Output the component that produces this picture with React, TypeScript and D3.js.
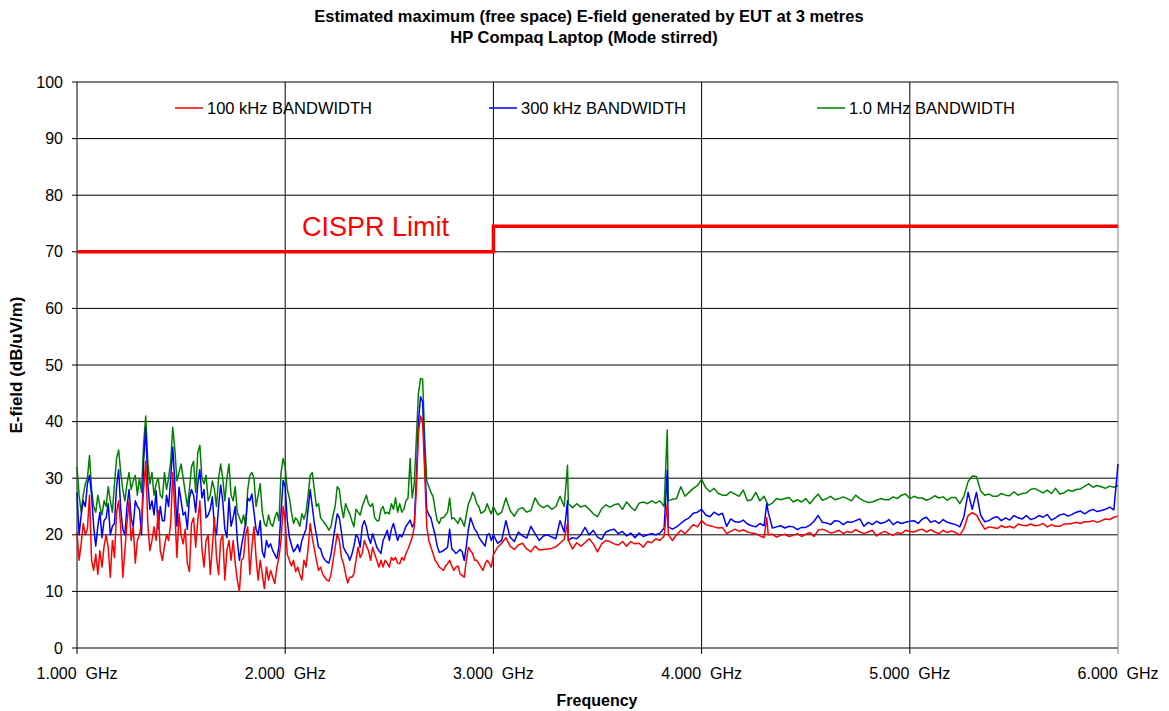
import React from 'react';
import * as d3 from 'd3';

// Frequency sweep definitions (GHz)
const LOW_START = 1.0;
const LOW_STEP = 0.01; // 1.00 .. 3.00
const HIGH_START = 3.02;
const HIGH_STEP = 0.02; // 3.02 .. 6.00

// 100 kHz bandwidth (red)
const red100kLow = [
  20.5,15.5,18.4,22,20,21,27,15.5,13.7,16.6, 13,17.2,14.3,18,20,17.8,12.5,19,16,24,
  26,21.4,12.5,17.2,22,26,19,21.4,15,19, 20,22,28,33,22,17.2,19,21.4,19,24.3,
  17.2,15.5,18,20,19,22,31,24,16,23.7, 20,
  18.4,21,15,13.5,22,23,17.8,22.5,26,17.5, 14.3,19,20,13,17.8,23,16,13,19,20,
  12,17.2,19,15.5,19,15,12,10,15.5,16, 20,21.4,13,17.8,21.4,16,12,15.5,13,10.5,
  14.3,12,13.7,12.5,11.4,14.3,16,19,25,22.5,
  16.5,15.5,14.5,15.5,13.5,14.3,13,12,15.5,14.3, 17.5,22,19.5,17.5,15.5,13.7,14.3,13,12.5,12,
  11.8,13,15.5,17.8,20.2,19,16,14.9,13.1,11.5, 12.5,12.5,13.1,15.5,17.8,16,16.7,19,18,17.2,
  15.5,17.8,16.5,15.5,14.3,15.5,14.3,15.5,15,14.3,
  16,15.5,16,15,14.9,16,15.5,16.7,17.5,18.5, 19.5,21.4,28,38,41,40,31,21.4,19,17.8,
  16.7,15.5,15,14.3,14,13.7,14.5,14.9,15.5,14.5, 13.7,14.3,14.5,13.1,12.8,12.5,15.5,17.8,17.2,16.7,
  15.5,15.5,14.9,14.3,13.7,14.9,15.5,15,14.3,16.5,
];
const red100kHigh = [
  17.8,18.5,19.5,18,17.4,18.2,18.5,17.5,17,18, 17.3,17.4,17.5,17.6,17.9,18.5,19.2,19,17.5,18.6,
  18,18.6,19.3,18.4,17,18.4,19,18.8,18.4,18.2, 18.8,18,18.8,18.4,18.5,17.8,18.8,18.6,19.3,19,
  19.8,20,19,20,20.8,20.2,21,21.8,21.4,22.5, 21.8,21.6,21.4,21.2,
  21.3,20.2,20.6,21,20.6,20.9,20.5,20.3,20.2,19.8, 19.5,20,20.1,19.6,19.9,20.1,19.7,19.9,20.2,19.7,
  20.1,20.4,19.7,20.8,21,20.7,20.3,20.5,20.8,20.2, 20.6,20.4,20.9,20.5,20.2,20.5,20.8,19.8,20.3,20.6,
  20.2,19.9,20.4,20.2,20.8,20.6,
  20.5,20.8,21,20.5,20.9,20.5,20.2,20.8,20.4,20.7, 20.4,20,21.1,23.4,23.9,23.5,22.2,21,21.4,21.3,
  21.1,21.6,21.3,21.5,21.2,21.9,21.7,21.6,21.9,21.6, 21.7,22,21.4,21.8,21.5,21.5,21.9,21.9,22,22.2,
  22,22.3,22.3,22.5,22.2,22.5,22.8,22.7,23.1,23.3,
];
const red100kSpikeF = [3.356, 3.835, 4.313];
const red100kSpikeV = [22, 25.5, 23];

// 300 kHz bandwidth (blue)
const blue300kLow = [
  27.5,20,23.5,26,25,29,30.5,27,21.5,18, 21.5,24,19.5,22.5,23,25.5,20,21.5,22,28.5,
  31.5,24.5,21,20,25,28,23,21.5,26,25, 24.5,20,33,39,29,24.5,26,23.5,27.8,21,
  25,22.5,22.5,27,25,30,35.5,29,21.5,28.4, 26,
  23.5,24,21,26.5,28,27,24,29,31.5,26.5, 28,23,23.5,24.5,26.7,21.5,20,25,28.8,26,
  21,19.5,26.5,21.5,23,25,19,15.5,18,20, 22,26.5,26,27.2,24,21,20,22.5,17,16,
  19,17.8,18.4,17.2,16.5,15.8,18,24,29.6,28.4,
  22.5,19.6,18.2,17,17.5,18.3,17,19,20,21, 24.5,28,25,22,20,17.8,17.5,16.2,15.6,15.2,
  15,16.5,19,21.4,23.7,23,20.5,17.8,17,16.5, 15.5,16.5,18,20,19.5,17.8,21.5,22.5,21.4,19.5,
  18.5,20.2,19,17.8,17.2,16.7,19,19.8,20.8,19,
  21,22,20.5,19,20,19.6,20.5,21.5,22,22.6, 21.4,22,30,40,44.4,43.5,33,24.5,23.5,23,
  21.4,20,18,16.9,17,17.2,17.5,17.8,21,17.5, 17.2,16.7,17,17.4,17,15.5,18,21,23,22,
  21,20.5,19.6,19,18.5,18,20,20.2,19,20,
];
const blue300kHigh = [
  18.5,19,22.5,19.6,18.8,20.5,19.8,19.4,21.5,20.2, 19,19.8,20,19.6,19.3,22.5,20.5,19,19.5,19.3,
  20,21.3,20,20.8,19.6,19.2,20.5,20.8,21,20.2, 20.6,19.8,20.3,19.5,20.3,19.7,20,20.2,20,20.3,
  21.2,21.4,21,21.4,22,22.6,23,23.8,24,24.5, 23.5,23.2,24,23.5,
  23.8,21.5,22.8,22.3,22.2,22.6,21.9,21.6,21.4,22, 21.6,24,21.2,21.4,21.6,21.2,21.5,21.4,20.9,21.3,
  21.3,21.7,22.4,23.4,22.2,22.1,21.8,22.5,22.4,21.8, 22.3,22.2,22.5,22.8,21.5,22.2,21.8,22.4,22,22.2,
  22.7,21.8,22.3,22,22.2,22.4,
  22.5,22,22.8,23.1,22.2,22.5,22,22.7,22.2,22, 21.8,21.4,23.2,27.5,24.5,27.5,23.5,22.3,22.5,23,
  23.2,22.5,23,22.6,23.4,23,22.8,23.4,22.7,22.9, 23.4,23.1,23.6,22.6,23,23.5,23.7,23.3,23.6,24,
  24.2,23.7,24.2,24.5,24.1,24.3,24.5,24.9,24.4,32.5,
];
const blue300kSpikeF = [3.356, 3.835, 4.313];
const blue300kSpikeV = [26, 31.4, 25.5];

// 1.0 MHz bandwidth (green)
const green1MLow = [
  32,27,24,27,29,30,34,28,25,24, 27,25,23.5,26,25,28.5,26,24,29,33.5,
  35,31,28,26,29,31,28,29.5,30.5,27, 30,27.5,36,41,33,29,31,27,29,30,
  27,26.5,31,28,30,33,39,35,29.5,31, 32.5,
  30,27.5,25,28,32,33,27.5,34.5,35.8,30, 29,30.5,26,27,29.5,28,25,30,32.5,30,
  26,30,32.5,27,26,28.5,24,23,22,23.5, 21.5,28,30.5,31,30,25,27,29,24,22,
  21.5,23.5,22,21.5,23,24,22.5,31,33.5,32,
  28,26.5,24,22,23,22.5,21.5,23.7,22.8,24, 27,30.5,31,28,25,25.5,23,22.5,22,21.5,
  20.8,21.5,23.5,25,28.5,28,25,23,25.5,24.5, 23.7,22.5,21.4,24.5,24,23.5,25,26,27,25.5,
  25,25.5,23,22.5,22.5,24.5,25,23.7,24,23.7,
  25.5,24.5,26.5,24,25.5,24,24.5,26,26.5,33.5, 26.5,29,37,45,47.6,47.5,37,29.5,28.5,27.5,
  26.8,24.5,22.5,22,23,23,23.5,24,26.5,22.8, 23,22.5,22,23,22.4,21.5,23.5,25.5,26.3,27.5,
  26.8,25.5,25,23.8,24,24.3,25.5,24.5,23.7,25,
];
const green1MHigh = [
  23.5,24,26.5,24.3,23.3,24.5,24.8,24,24.3,26.5, 25.3,24.8,25.2,24.5,25,26.8,25,25.5,24.8,25.5,
  24.9,25.2,24.5,23.7,23.2,24.6,25.3,24.9,25.3,25.5, 24.5,25.8,24.9,24.3,25.6,25.8,25.5,26,25.6,26,
  25,26,26.3,26.4,28.5,26.8,27.5,28.2,28.7,29.8, 28.3,27.6,28.2,27.3,
  27,27,27.6,27.2,26.8,27.9,26,26.2,27.5,26, 26.8,25.2,25.6,26.4,26.2,26.4,26.6,25.8,26.2,25.8,
  26.4,25.5,26.4,27.2,26.1,26.4,26.8,26.2,26.4,26.7, 26.4,26,27,26.4,26,25.7,25.8,26.1,26.4,26.2,
  26.2,26.7,26.4,27,27.2,26.4,
  26.8,26.5,26.5,26.1,26.4,26.9,26.5,26.7,26.1,26.6, 26.6,25.5,26.8,29.4,30.4,30.3,27.8,27,27.2,26.8,
  26.8,27.3,27,26.9,27.6,27,27.3,27.4,28,28.2, 27.8,27.4,27.9,27.3,28.2,27.2,27.4,27.9,27.7,28,
  28.1,28.6,29,28.4,28.7,28.5,28.2,28.6,28.4,28.7,
];
const green1MSpikeF = [3.356, 3.835];
const green1MSpikeV = [32.3, 38.5];

// CISPR limit
const limitF = [1, 3, 3, 6];
const limitV = [70, 70, 74.5, 74.5];

const yTicks = [0, 10, 20, 30, 40, 50, 60, 70, 80, 90, 100];
const xTicks = [1, 2, 3, 4, 5, 6];
const xTickLabels = ['1.000  GHz', '2.000  GHz', '3.000  GHz', '4.000  GHz', '5.000  GHz', '6.000  GHz'];

const seriesNames = ['100 kHz BANDWIDTH', '300 kHz BANDWIDTH', '1.0 MHz BANDWIDTH'];
const seriesColors = ['#ff0000', '#0000ff', '#008000'];

type Pt = { f: number; v: number };
function build(low: number[], high: number[], sf: number[], sv: number[]): Pt[] {
  const pts: Pt[] = [];
  low.forEach((v, i) => pts.push({ f: LOW_START + i * LOW_STEP, v }));
  high.forEach((v, i) => pts.push({ f: HIGH_START + i * HIGH_STEP, v }));
  sf.forEach((f, i) => pts.push({ f, v: sv[i] }));
  pts.sort((a, b) => a.f - b.f);
  return pts;
}

const FONT = "'Liberation Sans', Arial, sans-serif";

export default function App() {
  const W = 1169, H = 711;
  const x = d3.scaleLinear().domain([1, 6]).range([77, 1118]);
  const y = d3.scaleLinear().domain([0, 100]).range([648, 82]);
  const line = d3.line<Pt>().x(d => x(d.f)).y(d => y(d.v));

  const series = [
    build(green1MLow, green1MHigh, green1MSpikeF, green1MSpikeV),
    build(blue300kLow, blue300kHigh, blue300kSpikeF, blue300kSpikeV),
    build(red100kLow, red100kHigh, red100kSpikeF, red100kSpikeV),
  ];
  const drawColors = [seriesColors[2], seriesColors[1], seriesColors[0]];
  const limitPts: Pt[] = limitF.map((f, i) => ({ f, v: limitV[i] }));

  const legendX = [175, 489, 817];

  return (
    <svg width={W} height={H} style={{ position: 'absolute', left: 0, top: 0, background: '#fff' }} fontFamily={FONT}>
      <rect x={0} y={0} width={W} height={H} fill="#fff" />
      <text x={589} y={22} textAnchor="middle" fontSize={16.5} fontWeight="bold">Estimated maximum (free space) E-field generated by EUT at 3 metres</text>
      <text x={584} y={43} textAnchor="middle" fontSize={16.5} fontWeight="bold">HP Compaq Laptop (Mode stirred)</text>

      {/* horizontal grid */}
      {yTicks.map(t => (
        <g key={'y' + t}>
          <line x1={72} x2={x(6)} y1={y(t)} y2={y(t)} stroke="#000" strokeWidth={1} />
          <text x={63} y={y(t)} dy="0.35em" textAnchor="end" fontSize={16}>{t}</text>
        </g>
      ))}
      {/* vertical grid */}
      {xTicks.map((t, i) => (
        <g key={'x' + t}>
          <line x1={x(t)} x2={x(t)} y1={y(100)} y2={654} stroke={t === 6 ? '#808080' : '#000'} strokeWidth={1} />
          <text x={x(t)} y={679} textAnchor="middle" fontSize={16} style={{ whiteSpace: 'pre' }}>{xTickLabels[i]}</text>
        </g>
      ))}

      {/* legend */}
      {seriesNames.map((n, i) => (
        <g key={n}>
          <line x1={legendX[i]} x2={legendX[i] + 28} y1={108} y2={108} stroke={seriesColors[i]} strokeWidth={1.5} />
          <text x={legendX[i] + 32} y={114} fontSize={16.5}>{n}</text>
        </g>
      ))}

      {/* series */}
      {series.map((s, i) => (
        <path key={i} d={line(s) || ''} fill="none" stroke={drawColors[i]} strokeWidth={1.5} strokeLinejoin="round" />
      ))}

      {/* CISPR limit */}
      <path d={line(limitPts) || ''} fill="none" stroke="#ff0000" strokeWidth={3.5} />
      <text x={302} y={236} fontSize={27} fill="#ff0000">CISPR Limit</text>

      {/* axis titles */}
      <text x={597} y={706} textAnchor="middle" fontSize={16} fontWeight="bold">Frequency</text>
      <text transform={`translate(22,${365}) rotate(-90)`} textAnchor="middle" fontSize={17} fontWeight="bold">E-field (dB/uV/m)</text>
    </svg>
  );
}
